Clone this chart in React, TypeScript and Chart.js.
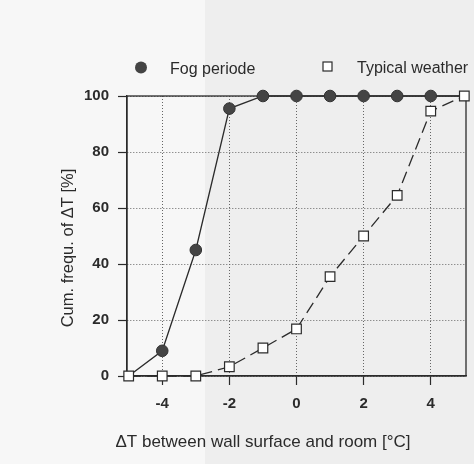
import React, { useEffect, useRef } from "react";
import { Chart, registerables } from "chart.js";

Chart.register(...registerables);

const deltaT = [-5, -4, -3, -2, -1, 0, 1, 2, 3, 4, 5];
const fogPeriode = [0, 9, 45, 95.5, 100, 100, 100, 100, 100, 100, 100];
const typicalWeather = [0, 0, 0, 3.3, 10, 16.8, 35.5, 50, 64.5, 94.6, 100];
const xTickValues = [-4, -2, 0, 2, 4];
const yTickValues = [0, 20, 40, 60, 80, 100];
const seriesLabels = ["Fog periode", "Typical weather"];
const xTitle = "ΔT between wall surface and room [°C]";
const yTitle = "Cum. frequ. of ΔT [%]";

const FONT = "'Liberation Sans', Arial, sans-serif";
const INK = "#2b2b2b";

const decorPlugin = {
  id: "decor",
  beforeDraw(chart: any) {
    const { ctx, width, height } = chart;
    ctx.save();
    ctx.fillStyle = "#eeeeee";
    ctx.fillRect(0, 0, width, height);
    ctx.fillStyle = "#f7f7f7";
    ctx.fillRect(0, 0, 205, height);
    ctx.restore();
  },
  beforeDatasetsDraw(chart: any) {
    const { ctx, chartArea } = chart;
    ctx.save();
    ctx.strokeStyle = INK;
    ctx.lineWidth = 1.3;
    ctx.strokeRect(chartArea.left, chartArea.top, chartArea.right - chartArea.left, chartArea.bottom - chartArea.top);
    ctx.restore();
  },
  afterDraw(chart: any) {
    const { ctx, chartArea } = chart;
    ctx.save();
    ctx.fillStyle = INK;
    ctx.font = `17px ${FONT}`;
    ctx.textAlign = "center";
    ctx.textBaseline = "middle";
    ctx.fillText(xTitle, 263, 442);
    ctx.save();
    ctx.translate(68, (chartArea.top + chartArea.bottom) / 2 + 12);
    ctx.rotate(-Math.PI / 2);
    ctx.font = `16.5px ${FONT}`;
    ctx.fillText(yTitle, 0, 0);
    ctx.restore();
    const ds = chart.data.datasets;
    ctx.font = `16px ${FONT}`;
    ctx.textAlign = "left";
    ctx.beginPath();
    ctx.arc(141, 67.5, 6, 0, Math.PI * 2);
    ctx.fillStyle = ds[0].pointBackgroundColor;
    ctx.fill();
    ctx.fillStyle = INK;
    ctx.fillText(ds[0].label, 170, 70);
    ctx.fillStyle = "#ffffff";
    ctx.fillRect(323, 62, 9, 9);
    ctx.strokeStyle = INK;
    ctx.lineWidth = 1.2;
    ctx.strokeRect(323, 62, 9, 9);
    ctx.fillStyle = INK;
    ctx.fillText(ds[1].label, 357, 69);
    ctx.restore();
  },
};

export default function App() {
  const ref = useRef<HTMLCanvasElement | null>(null);
  useEffect(() => {
    if (!ref.current) return;
    const last = deltaT.length - 1;
    const chart = new Chart(ref.current, {
      type: "line",
      data: {
        datasets: [
          {
            label: seriesLabels[0],
            data: deltaT.map((x, i) => ({ x, y: fogPeriode[i] })),
            borderColor: INK,
            borderWidth: 1.3,
            pointBackgroundColor: "#444444",
            pointBorderColor: "#333333",
            pointBorderWidth: 1,
            pointRadius: (c: any) => (c.dataIndex === 0 || c.dataIndex === last ? 0 : 5.8),
            pointStyle: "circle",
            tension: 0,
            clip: false,
            order: 2,
          } as any,
          {
            label: seriesLabels[1],
            data: deltaT.map((x, i) => ({ x, y: typicalWeather[i] })),
            borderColor: INK,
            borderWidth: 1.3,
            borderDash: [12, 6],
            pointBackgroundColor: "#ffffff",
            pointBorderColor: INK,
            pointBorderWidth: 1.2,
            pointRadius: 6.8,
            pointStyle: "rect",
            tension: 0,
            clip: false,
            order: 1,
          } as any,
        ],
      },
      options: {
        animation: false,
        responsive: false,
        events: [],
        layout: { padding: { top: 96, right: 6, left: 0, bottom: 0 } },
        plugins: { legend: { display: false }, tooltip: { enabled: false }, title: { display: false } },
        scales: {
          x: {
            type: "linear",
            min: -5.05,
            max: 5.05,
            afterBuildTicks: (s: any) => {
              s.ticks = xTickValues.map((v) => ({ value: v }));
            },
            afterFit: (s: any) => {
              s.height = 88;
            },
            grid: {
              color: "#666666",
              lineWidth: 1,
              drawTicks: true,
              tickLength: 9,
              tickColor: INK,
              tickWidth: 1.2,
            },
            border: { display: true, color: INK, width: 1.3, dash: [1, 2] },
            ticks: {
              padding: 10,
              color: INK,
              font: { family: FONT, size: 15, weight: "bold" },
              callback: (v: any) => String(v),
            },
          },
          y: {
            type: "linear",
            min: 0,
            max: 100,
            afterBuildTicks: (s: any) => {
              s.ticks = yTickValues.map((v) => ({ value: v }));
            },
            afterFit: (s: any) => {
              s.width = 127;
            },
            grid: {
              color: "#666666",
              lineWidth: 1,
              drawTicks: true,
              tickLength: 9,
              tickColor: INK,
              tickWidth: 1.2,
            },
            border: { display: true, color: INK, width: 1.3, dash: [1, 2] },
            ticks: {
              padding: 9,
              color: INK,
              font: { family: FONT, size: 15, weight: "bold" },
            },
          },
        },
      },
      plugins: [decorPlugin],
    });
    return () => chart.destroy();
  }, []);
  return (
    <canvas
      ref={ref}
      width={474}
      height={464}
      style={{ position: "fixed", left: 0, top: 0, width: 474, height: 464 }}
    />
  );
}
